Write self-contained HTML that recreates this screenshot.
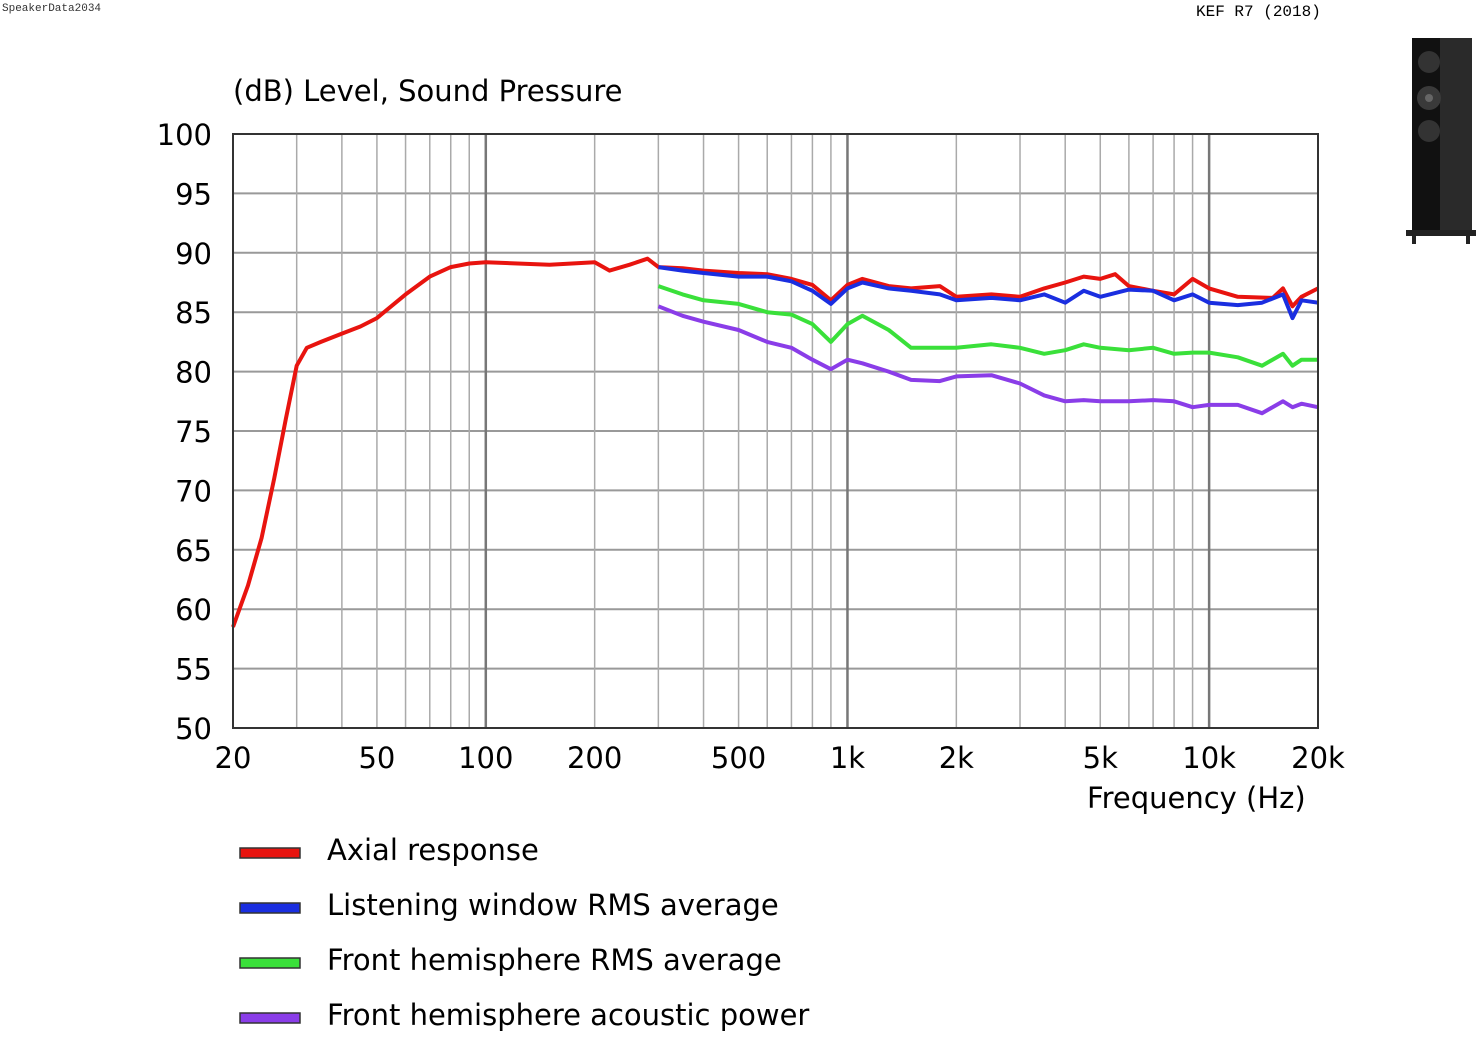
<!DOCTYPE html>
<html><head><meta charset="utf-8"><style>
body{margin:0;background:#fff;width:1479px;height:1036px;overflow:hidden;font-family:"DejaVu Sans",sans-serif}
svg text{font-family:"DejaVu Sans",sans-serif}
</style></head><body>
<svg id="c" width="1479" height="1036">
<text x="2" y="11" font-size="11" fill="#333" style="font-family:'Liberation Mono',monospace">SpeakerData2034</text>
<text x="1196" y="16" font-size="16" fill="#000" style="font-family:'Liberation Mono',monospace">KEF R7 (2018)</text>
<g>
<rect x="1412" y="38" width="60" height="192" fill="#111"/>
<rect x="1440" y="38" width="32" height="192" fill="#2a2a2a"/>
<circle cx="1429" cy="62" r="11" fill="#333"/><circle cx="1429" cy="98" r="12" fill="#3a3a3a"/><circle cx="1429" cy="98" r="4" fill="#666"/><circle cx="1429" cy="131" r="11" fill="#333"/>
<rect x="1406" y="230" width="70" height="6" fill="#222"/><rect x="1412" y="236" width="4" height="8" fill="#222"/><rect x="1466" y="236" width="4" height="8" fill="#222"/>
</g>
<text x="233" y="101" font-size="29" fill="#000">(dB)  Level, Sound Pressure</text>
<text x="1087" y="808" font-size="29" fill="#000">Frequency  (Hz)</text>
<g id="grid"></g><g id="ticks"></g><g id="series"></g>
<rect x="233" y="134" width="1085" height="594" fill="none" stroke="#333" stroke-width="2"/>
<g id="legend"></g>
</svg>
<script>
const yTicks=[100,95,90,85,80,75,70,65,60,55,50];
const xTickVals=[20,50,100,200,500,1000,2000,5000,10000,20000];
const xTickLabels=["20","50","100","200","500","1k","2k","5k","10k","20k"];
const axialFreq=[20,22,24,26,28,30,32,35,40,45,50,60,70,80,90,100,150,200,220,250,280,300,350,400,500,600,700,800,900,1000,1100,1300,1500,1800,2000,2500,3000,3500,4000,4500,5000,5500,6000,7000,8000,9000,10000,12000,15000,16000,17000,18000,20000];
const axialDb=[58.5,62,66,71,76,80.5,82,82.5,83.2,83.8,84.5,86.5,88,88.8,89.1,89.2,89,89.2,88.5,89,89.5,88.8,88.7,88.5,88.3,88.2,87.8,87.3,86,87.3,87.8,87.2,87,87.2,86.3,86.5,86.3,87,87.5,88,87.8,88.2,87.2,86.8,86.5,87.8,87,86.3,86.2,87,85.5,86.3,87];
const hfFreq=[300,350,400,500,600,700,800,900,1000,1100,1300,1500,1800,2000,2500,3000,3500,4000,4500,5000,6000,7000,8000,9000,10000,12000,14000,16000,17000,18000,20000];
const lwDb=[88.8,88.5,88.3,88,88,87.6,86.8,85.7,87,87.5,87,86.8,86.5,86,86.2,86,86.5,85.8,86.8,86.3,86.9,86.8,86,86.5,85.8,85.6,85.8,86.5,84.5,86,85.8];
const frDb=[87.2,86.5,86,85.7,85,84.8,84,82.5,84,84.7,83.5,82,82,82,82.3,82,81.5,81.8,82.3,82,81.8,82,81.5,81.6,81.6,81.2,80.5,81.5,80.5,81,81];
const pwDb=[85.5,84.7,84.2,83.5,82.5,82,81,80.2,81,80.7,80,79.3,79.2,79.6,79.7,79,78,77.5,77.6,77.5,77.5,77.6,77.5,77,77.2,77.2,76.5,77.5,77,77.3,77];
const legendLabels=["Axial response","Listening window RMS average","Front hemisphere RMS average","Front hemisphere acoustic power"];
const colors=["#e8140f","#1a2ee0","#3ae03a","#8a3de8"];
const X0=233,X1=1318,Y0=134,Y1=728;
const xs=f=>X0+(X1-X0)*Math.log10(f/20)/3;
const ys=d=>Y0+(Y1-Y0)*(100-d)/50;
const NS="http://www.w3.org/2000/svg";
function mk(t,a,p){const e=document.createElementNS(NS,t);for(const k in a)e.setAttribute(k,a[k]);p.appendChild(e);return e;}
const grid=document.getElementById('grid'),ticks=document.getElementById('ticks'),ser=document.getElementById('series'),leg=document.getElementById('legend');
for(const d of yTicks){const l=mk('line',{x1:X0,x2:X1,y1:ys(d),y2:ys(d),stroke:'#999','stroke-width':2},grid);


const t=mk('text',{x:212,y:ys(d)+11,'font-size':29,'text-anchor':'end'},ticks);t.textContent=d;

}
for(let dec=10;dec<=10000;dec*=10)for(let m=1;m<=9;m++){const f=dec*m;if(f<20||f>20000)continue;const major=m==1;
const l=mk('line',{x1:xs(f),x2:xs(f),y1:Y0,y2:Y1,stroke:major?'#777':'#aaa','stroke-width':major?2.5:1.5},grid);

}
xTickVals.forEach((f,i)=>{const t=mk('text',{x:xs(f),y:768,'font-size':29,'text-anchor':'middle'},ticks);t.textContent=xTickLabels[i];

});
const series=[[axialFreq,axialDb],[hfFreq,lwDb],[hfFreq,frDb],[hfFreq,pwDb]];
const names=['axial-response-line','listening-window-line','front-hemisphere-rms-line','acoustic-power-line'];
series.forEach((s,i)=>{const d=s[0].map((f,j)=>(j?'L':'M')+xs(f).toFixed(1)+','+ys(s[1][j]).toFixed(1)).join('');
const p=mk('path',{d:d,fill:'none',stroke:colors[i],'stroke-width':4,'stroke-linejoin':'round'},ser);

});
legendLabels.forEach((lab,i)=>{const y=853+55*i;
const r=mk('rect',{x:240,y:y-5,width:60,height:10,fill:colors[i],stroke:'#333','stroke-width':1.5},leg);


const t=mk('text',{x:327,y:y+7,'font-size':29},leg);t.textContent=lab;

});
</script>
</body></html>
